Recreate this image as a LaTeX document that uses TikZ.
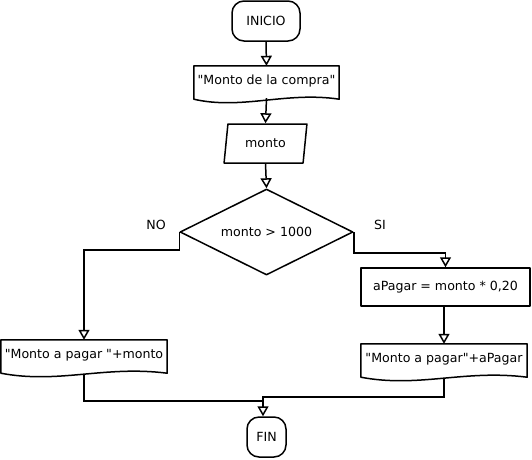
\documentclass[tikz,border=0pt]{standalone}
\usepackage{fontspec}
\setmainfont{DejaVu Sans}
\usetikzlibrary{shapes.geometric,arrows.meta,calc}

% document symbol: straight top and sides, wavy bottom
\newcommand{\docoutline}[1]{%
  \draw[outline] (#1.north west) -- ($(#1.south west)+(0pt,-3pt)$)
    .. controls ($(#1.south)+(-25pt,-14pt)$) and ($(#1.south)+(20pt,5pt)$)
    .. ($(#1.south east)+(0pt,-3pt)$) -- (#1.north east) -- cycle;}
\newcommand{\q}{\textquotedbl}

\begin{document}
\begin{tikzpicture}[x=1pt,y=-1pt,
  every node/.style={font=\fontsize{12.6}{15}\selectfont,inner sep=0pt},
  outline/.style={line width=1.5pt,line join=round},
  term/.style={draw,outline,rectangle,rounded corners=12pt,minimum height=40pt},
  doc/.style={rectangle,minimum height=30pt},
  io/.style={draw,outline,trapezium,trapezium left angle=77,trapezium right angle=103,
    trapezium stretches=true,minimum width=83pt,minimum height=39pt},
  decision/.style={draw,outline,diamond,shape aspect=2,minimum width=173pt,minimum height=86pt},
  proc/.style={draw,outline,rectangle,minimum width=169pt,minimum height=38pt},
  flow/.style={line width=1.5pt,-{Triangle[open,length=10pt,width=11pt]}},
  link/.style={line width=1.5pt}]
\useasboundingbox (0,0) rectangle (532,459);

% nodes
\node[term,minimum width=68pt] (inicio) at (266,21) {INICIO};
\node[doc,minimum width=145pt] (msgcompra) at (266.5,81) {\q Monto de la compra\q};
\docoutline{msgcompra}
\node[io] (monto) at (265.5,143.5) {monto};
\node[decision] (cond) at (266.5,232) {monto > 1000};
\node (lno) at (156,225) {NO};
\node (lsi) at (380,225) {SI};
\node[proc] (calc) at (445.5,287) {aPagar = monto * 0,20};
\node[doc,minimum width=166pt] (msgpagar) at (444,359) {\q Monto a pagar\q+aPagar};
\docoutline{msgpagar}
\node[doc,minimum width=166pt] (msgmonto) at (84,355) {\q Monto a pagar \q+monto};
\docoutline{msgmonto}
\node[term,minimum width=39pt] (fin) at (266.5,437) {FIN};

\coordinate (joinR) at (263,397);
\coordinate (joinL) at (263,401);

% connectors
\draw[flow] (inicio.south) -- (msgcompra.north);
\draw[flow] ($(msgcompra.south)+(0pt,-2pt)$) -- (monto.north);
\draw[flow] (monto.south) -- (cond.north);
\draw[flow] (cond.west) -- ++(0pt,-18pt) -| (msgmonto.north);
\draw[flow] (cond.east) -- ++(0pt,-21pt) -| (calc.north);
\draw[flow] (calc.south -| msgpagar.north) -- (msgpagar.north);
\draw[link] ($(msgmonto.south)+(0pt,-4pt)$) |- (joinL);
\draw[flow] ($(msgpagar.south)+(0pt,-4pt)$) |- (joinR) -- (joinR |- fin.north);
\end{tikzpicture}
\end{document}
